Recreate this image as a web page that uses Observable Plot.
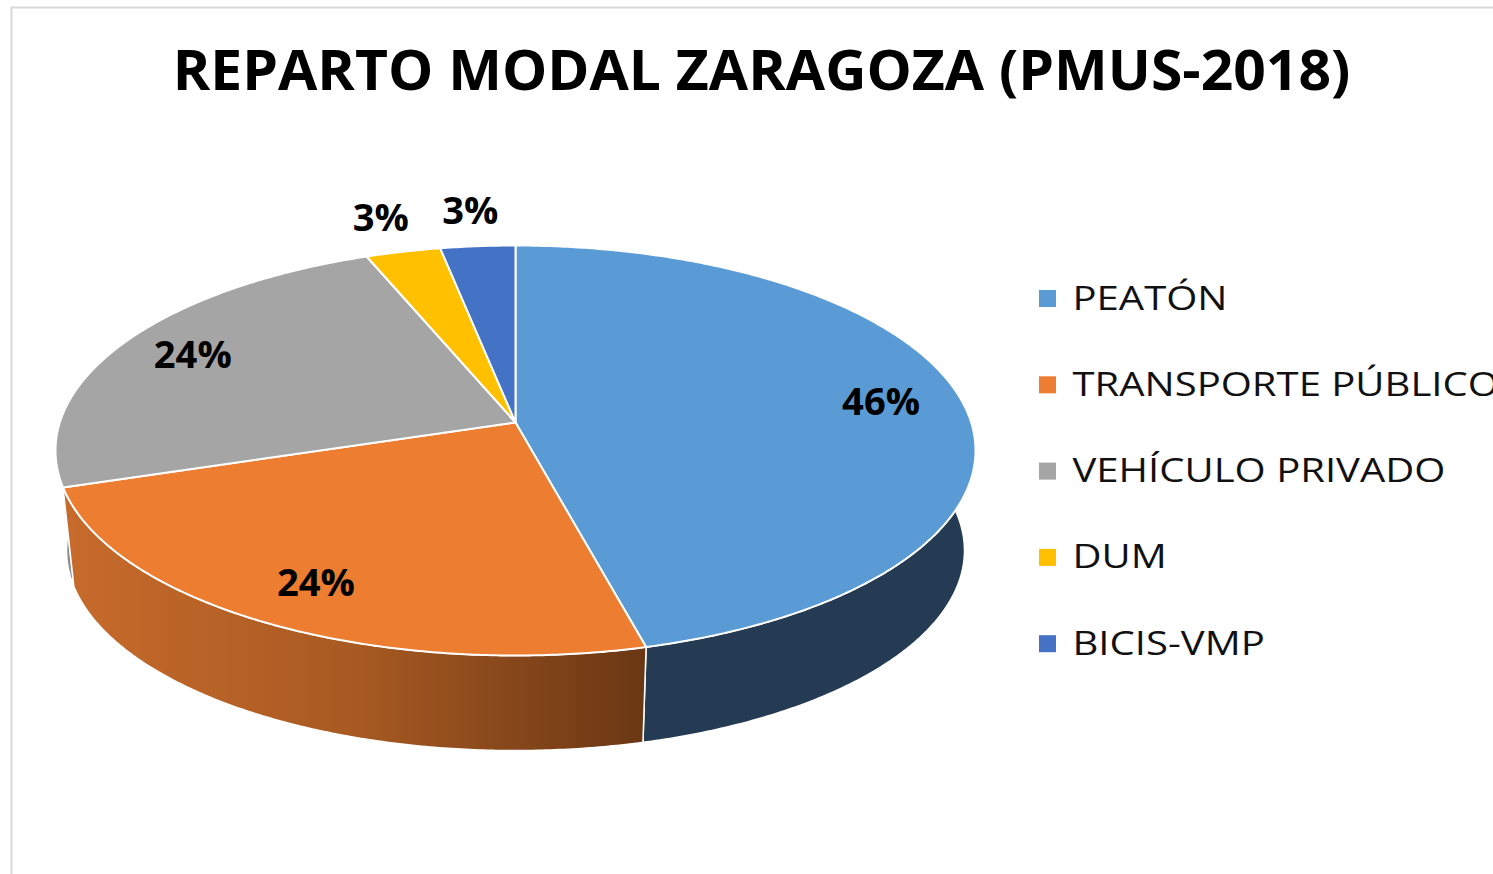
<!DOCTYPE html>
<html><head><meta charset="utf-8">
<script src="https://cdn.jsdelivr.net/npm/d3@7"></script>
<script src="https://cdn.jsdelivr.net/npm/@observablehq/plot@0.6"></script>
<style>html,body{margin:0;padding:0;background:#fff;overflow:hidden}</style>
</head><body><div id="chart"></div>
<script>
// ---- data ----
const title = "REPARTO MODAL ZARAGOZA (PMUS-2018)";
const categories = ["PEATÓN", "TRANSPORTE PÚBLICO", "VEHÍCULO PRIVADO", "DUM", "BICIS-VMP"];
const values = [46, 24, 24, 3, 3];
const labels = ["46%", "24%", "24%", "3%", "3%"];
// ---- styles ----
const topColors = ["#5b9bd5", "#ed7d31", "#a5a5a5", "#ffc000", "#4472c4"];
const sideColors = ["#243b53", "url(#sideTP)", "#8c8c8c", "#b38600", "#2f508a"];

const W = 1493, H = 874;
const CX = 515, CY = 450, RX = 460, RY = 205, T = -0.1366, DEPTH = 100, SHRINK = 0.976;
const K = Math.sqrt(1 - T * T);
function proj(theta, r, level) {
  const u = r * Math.sin(theta), v = -r * Math.cos(theta);
  const d = 1 + T * v;
  const xn = u * K / d, yn = (v + T) / d;
  const s = level ? SHRINK : 1;
  return {x: CX + RX * s * xn, y: CY + (level ? DEPTH : 0) + RY * s * yn};
}
function arc(a0, a1, level) {
  const n = Math.max(2, Math.ceil((a1 - a0) / (Math.PI / 360)));
  return d3.range(n + 1).map(i => proj(a0 + (a1 - a0) * i / n, 1, level));
}

const total = d3.sum(values);
let cum = 0;
const slices = values.map((v, i) => {
  const a0 = cum / total * 2 * Math.PI; cum += v;
  const a1 = cum / total * 2 * Math.PI;
  return {i, a0, a1, mid: (a0 + a1) / 2};
});

const sideMarks = slices.slice().sort((a, b) => Math.cos(b.mid) - Math.cos(a.mid)).map(s => {
  const pts = arc(s.a0, s.a1, 0).concat(arc(s.a0, s.a1, 1).reverse());
  return Plot.line(pts, {x: "x", y: "y", curve: "linear-closed", fill: sideColors[s.i], stroke: "white", strokeWidth: 1.5, strokeLinejoin: "round"});
});
const topMarks = slices.map(s => {
  const pts = [proj(0, 0, 0)].concat(arc(s.a0, s.a1, 0));
  return Plot.line(pts, {x: "x", y: "y", curve: "linear-closed", fill: topColors[s.i], stroke: "white", strokeWidth: 2, strokeLinejoin: "round"});
});

const labelData = slices.map(s => {
  const p = proj(s.mid, values[s.i] < 5 ? 1.23 : 0.82, 0);
  return {x: p.x, y: p.y, text: labels[s.i]};
});

const LX = 1047, LTX = 1072, LY0 = 298, LDY = 86.3;
const legendData = categories.map((c, i) => ({x: LX, tx: LTX, y: LY0 + i * LDY, name: c, color: topColors[i]}));

const plot = Plot.plot({
  width: W, height: H, margin: 0,
  x: {domain: [0, W], range: [0, W], axis: null},
  y: {domain: [0, H], range: [0, H], axis: null},
  color: {type: "identity"},
  style: {background: "white", overflow: "hidden"},
  marks: [
    Plot.frame({stroke: "#d9d9d9", strokeWidth: 2, insetLeft: 11, insetTop: 7, insetRight: -20, insetBottom: -20}),
    ...sideMarks,
    ...topMarks,
    Plot.text(labelData, {x: "x", y: "y", text: "text", fontSize: 37, fontWeight: "bold", fill: "#000", fontFamily: "Open Sans", textAnchor: "middle", lineAnchor: "middle", dy: 13}),
    Plot.dot(legendData, {x: "x", y: "y", symbol: "square", r: 9.6, fill: "color", stroke: null}),
    Plot.text(legendData, {x: "tx", y: "y", text: "name", fontSize: 32, fill: "#111", fontFamily: "Open Sans", textAnchor: "start", lineAnchor: "middle", dy: 11}),
    Plot.text([{x: 761, y: 71, t: title}], {x: "x", y: "y", text: "t", fontSize: 56, fontWeight: "bold", fill: "#000", fontFamily: "Open Sans", textAnchor: "middle", lineAnchor: "middle", dy: 18})
  ]
});
document.getElementById("chart").appendChild(plot);

// gradient for the orange side
const svg = d3.select(plot);
const defs = svg.insert("defs", ":first-child");
const g = defs.append("linearGradient").attr("id", "sideTP").attr("gradientUnits", "userSpaceOnUse")
  .attr("x1", 60).attr("y1", 0).attr("x2", 645).attr("y2", 0);
g.append("stop").attr("offset", 0).attr("stop-color", "#c86b2c");
g.append("stop").attr("offset", 0.5).attr("stop-color", "#a85a22");
g.append("stop").attr("offset", 1).attr("stop-color", "#6a3714");

// horizontal stretch of texts to match the reference's wide lettering
function stretch(el, k) {
  const x = +el.getAttribute("x") || 0, y = +el.getAttribute("y") || 0;
  const tr = el.getAttribute("transform") || "";
  el.removeAttribute("x"); el.removeAttribute("y");
  el.setAttribute("transform", `${tr} translate(${x},${y}) scale(${k},1)`);
}
const texts = Array.from(plot.querySelectorAll("text"));
const find = s => texts.find(t => t.textContent === s);
const kTitle = 1178 / find(title).getComputedTextLength();
const kLegend = 155 / find(categories[0]).getComputedTextLength();
const kLabel = 78 / find(labels[0]).getComputedTextLength();
texts.forEach(t => {
  const s = t.textContent;
  if (s === title) stretch(t, kTitle);
  else if (categories.includes(s)) stretch(t, kLegend);
  else if (labels.includes(s)) stretch(t, kLabel);
});
</script>
</body></html>
